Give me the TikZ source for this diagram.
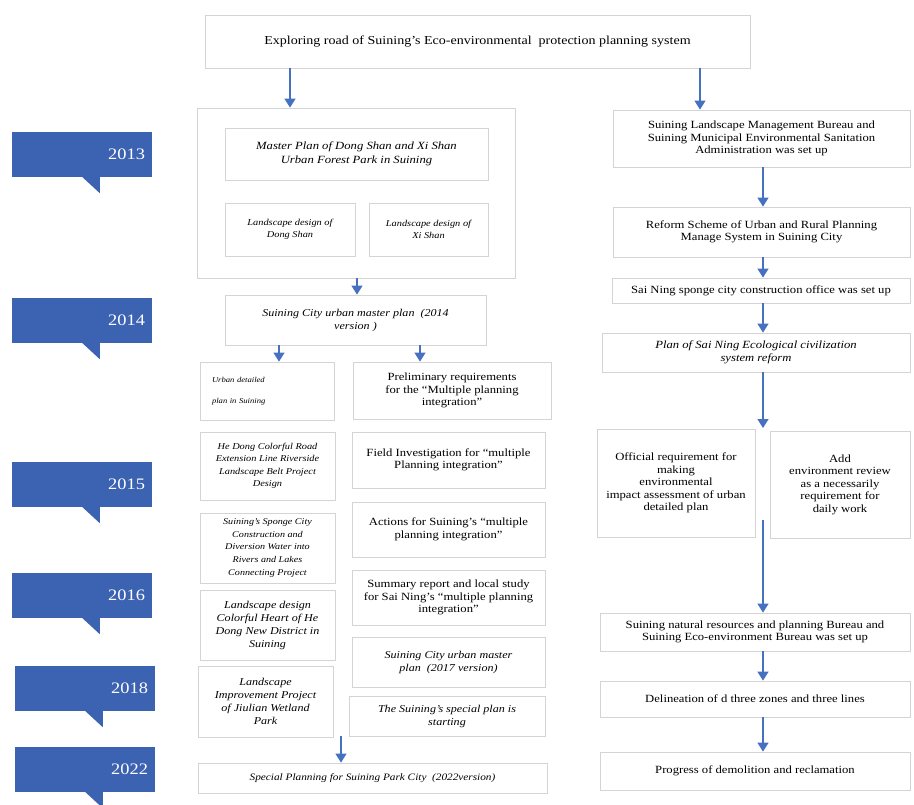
\documentclass[tikz,border=0pt]{standalone}
\usepackage{fontspec}
\setmainfont[FakeStretch=1.15]{Liberation Serif}
\usetikzlibrary{arrows.meta}
\definecolor{yblue}{RGB}{60,98,178}
\definecolor{ablue}{RGB}{70,112,192}
\definecolor{bline}{RGB}{212,212,212}
\newcommand{\mybox}[7]{\node[box,#6,minimum width={#4-#2},minimum height={#5-#3}] (#1) at ({(#2+#4)/2},{(#3+#5)/2}) {#7};}
\newcommand{\yearbox}[4]{\node[yearlbl] (#1) at ({#2+70},{#3+22.5}) {#4};
  \fill[yblue] ([xshift=70pt,yshift=0.6pt]#1.south west) -- ++(18,0) -- ++(0,16.6) -- cycle;}
\tikzset{
  box/.style={draw=bline,line width=0.8pt,fill=white,align=center,inner sep=2pt,font=\fontsize{11}{12.5}\selectfont},
  it/.style={font=\fontsize{10.5}{13}\selectfont\itshape},
  itsm/.style={font=\fontsize{9}{12.5}\selectfont\itshape},
  yearlbl/.style={rectangle,fill=yblue,text=white,inner sep=7pt,text width=126pt,align=right,minimum height=45pt,font=\fontsize{16}{16}\selectfont},
  arr/.style={draw=ablue,line width=1.3pt,-{Triangle[width=11pt,length=9pt]}}
}
\begin{document}
\begin{tikzpicture}[x=1pt,y=-1pt]
\useasboundingbox (0,0) rectangle (914,805);
% years
\yearbox{y13}{12}{132}{2013}
\yearbox{y14}{12}{298}{2014}
\yearbox{y15}{12}{462}{2015}
\yearbox{y16}{12}{573}{2016}
\yearbox{y18}{15}{666}{2018}
\yearbox{y22}{15}{747}{2022}
% title
\mybox{title}{205}{15}{750}{68}{font=\fontsize{12.2}{14}\selectfont}{Exploring road of Suining's Eco-environmental\ \ protection planning system}
% 2013 group
\mybox{big}{197}{108}{515}{278}{}{}
\mybox{mp}{225}{128}{488}{180}{font=\fontsize{11}{14}\selectfont\itshape}{Master Plan of Dong Shan and Xi Shan\\Urban Forest Park in Suining}
\mybox{lds}{225}{203}{355}{256}{itsm}{Landscape design of\\Dong Shan}
\mybox{lxs}{369}{203}{488}{256}{itsm}{Landscape design of\\Xi Shan}
% 2014
\mybox{mp14}{225}{295}{486}{345}{it}{Suining City urban master plan\ \ (2014\\version )}
\mybox{ud}{200}{362}{334}{420}{font=\fontsize{7.5}{21}\selectfont\itshape,align=left,text width=110pt}{Urban detailed\\plan in Suining}
\mybox{pre}{353}{362}{551}{419}{}{Preliminary requirements\\for the ``Multiple planning\\integration''}
% left column
\mybox{hd}{200}{432}{335}{500}{itsm}{He Dong Colorful Road\\Extension Line Riverside\\Landscape Belt Project\\Design}
\mybox{sp}{200}{513}{335}{583}{font=\fontsize{8.8}{12.6}\selectfont\itshape}{Suining's Sponge City\\Construction and\\Diversion Water into\\Rivers and Lakes\\Connecting Project}
\mybox{ch}{200}{590}{335}{660}{it}{Landscape design\\Colorful Heart of He\\Dong New District in\\Suining}
\mybox{jw}{198}{666}{333}{737}{it}{Landscape\\Improvement Project\\of Jiulian Wetland\\Park}
% middle column
\mybox{fi}{352}{432}{545}{488}{}{Field Investigation for ``multiple\\Planning integration''}
\mybox{ac}{352}{502}{545}{557}{}{Actions for Suining's ``multiple\\planning integration''}
\mybox{su}{352}{570}{545}{625}{}{Summary report and local study\\for Sai Ning's ``multiple planning\\integration''}
\mybox{mse}{352}{637}{545}{687}{it}{Suining City urban master\\plan\ \ (2017 version)}
\mybox{ss}{349}{696}{545}{736}{it}{The Suining's special plan is\\starting}
\mybox{spc}{198}{763}{547}{793}{font=\fontsize{9.8}{12}\selectfont\itshape}{Special Planning for Suining Park City\ \ (2022version)}
% right column
\mybox{ra}{613}{110}{910}{167}{}{Suining Landscape Management Bureau and\\Suining Municipal Environmental Sanitation\\Administration was set up}
\mybox{rb}{613}{207}{910}{257}{}{Reform Scheme of Urban and Rural Planning\\Manage System in Suining City}
\mybox{rc}{612}{278}{910}{303}{}{Sai Ning sponge city construction office was set up}
\mybox{rd}{602}{333}{910}{372}{font=\fontsize{11}{13}\selectfont\itshape}{Plan of Sai Ning Ecological civilization\\system reform}
\mybox{re}{597}{429}{755}{537}{}{Official requirement for\\making\\environmental\\impact assessment of urban\\detailed plan}
\mybox{rf}{770}{431}{910}{538}{}{Add\\environment review\\as a necessarily\\requirement for\\daily work}
\mybox{rg}{600}{613}{910}{651}{}{Suining natural resources and planning Bureau and\\Suining Eco-environment Bureau was set up}
\mybox{rh}{600}{681}{910}{717}{}{Delineation of d three zones and three lines}
\mybox{ri}{600}{752}{910}{790}{}{Progress of demolition and reclamation}
% connectors
\coordinate (xa) at (290,0);
\coordinate (xb) at (700,0);
\coordinate (xc) at (357,0);
\coordinate (xd) at (279,0);
\coordinate (xe) at (420,0);
\coordinate (xr) at (763,0);
\coordinate (gapend) at (763,428);
\coordinate (gapstart) at (763,520);
\coordinate (lowstart) at (341,736);
\draw[arr] (title.south -| xa) -- (big.north -| xa);
\draw[arr] (title.south -| xb) -- (ra.north -| xb);
\draw[arr] (big.south -| xc) -- (mp14.north -| xc);
\draw[arr] (mp14.south -| xd) -- (ud.north -| xd);
\draw[arr] (mp14.south -| xe) -- (pre.north -| xe);
\draw[arr] (lowstart) -- (spc.north -| lowstart);
\draw[arr] (ra.south -| xr) -- (rb.north -| xr);
\draw[arr] (rb.south -| xr) -- (rc.north -| xr);
\draw[arr] (rc.south -| xr) -- (rd.north -| xr);
\draw[arr] (rd.south -| xr) -- (gapend);
\draw[arr] (gapstart) -- (rg.north -| xr);
\draw[arr] (rg.south -| xr) -- (rh.north -| xr);
\draw[arr] (rh.south -| xr) -- (ri.north -| xr);
\end{tikzpicture}
\end{document}
